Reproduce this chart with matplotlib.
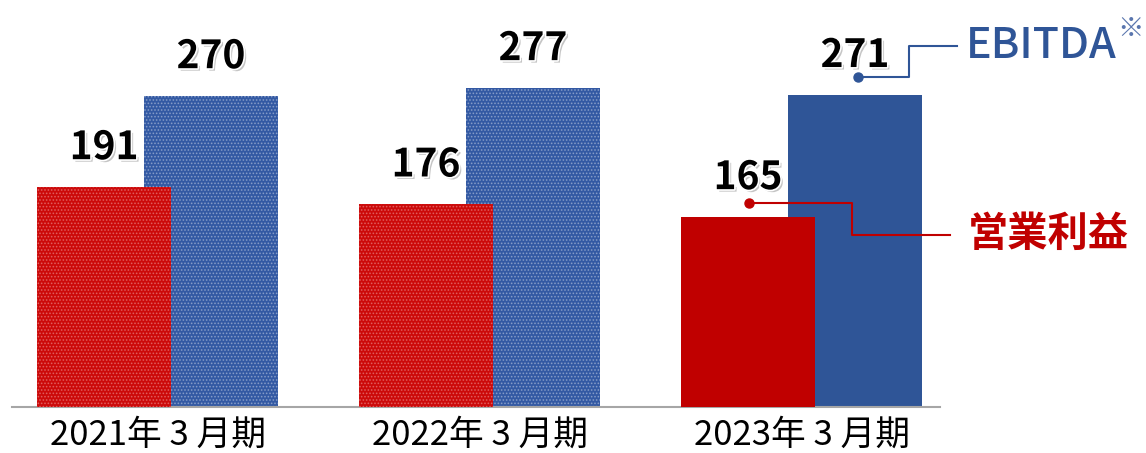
import matplotlib
matplotlib.use("Agg")
import matplotlib.pyplot as plt
import matplotlib.patheffects as pe
from matplotlib.lines import Line2D

plt.rcParams['font.family'] = ['Noto Sans CJK JP', 'DejaVu Sans']
plt.rcParams['hatch.linewidth'] = 0.8

# data (億円)
periods = ["2021年 3 月期", "2022年 3 月期", "2023年 3 月期"]
operating_profit = [191, 176, 165]
ebitda = [270, 277, 271]
series_names = ["営業利益", "EBITDA"]
textured = [True, True, False]

RED = "#C00000"
BLUE = "#2F5597"
RED_DOT = "#CC0A0A"
BLUE_DOT = "#3359A3"

W, H = 1146, 453
fig = plt.figure(figsize=(W / 100, H / 100), dpi=100)
ax = fig.add_axes([12 / W, 46 / H, 928 / W, 407 / H])

width = 0.416
offset = 0.166
xs = list(range(len(periods)))

# EBITDA drawn first so the operating-profit bar sits in front
for i, x in enumerate(xs):
    if textured[i]:
        ax.bar(x + offset, ebitda[i], width, color=BLUE_DOT, edgecolor=(1, 1, 1, 0.35),
               linewidth=0, hatch=".....", zorder=2)
        ax.bar(x - offset, operating_profit[i], width, color=RED_DOT, edgecolor=(1, 0.85, 0.85, 0.35),
               linewidth=0, hatch=".....", zorder=3)
    else:
        ax.bar(x + offset, ebitda[i], width, color=BLUE, linewidth=0, zorder=2)
        ax.bar(x - offset, operating_profit[i], width, color=RED, linewidth=0, zorder=3)

ax.set_xlim(-0.452, 2.430)
ax.set_ylim(0, 353.3)

for s in ["top", "right", "left"]:
    ax.spines[s].set_visible(False)
ax.spines["bottom"].set_color("#A6A6A6")
ax.spines["bottom"].set_linewidth(1.5)
ax.set_yticks([])
ax.set_xticks(xs)
ax.set_xticklabels(periods, fontsize=25)
ax.tick_params(axis="x", length=0, pad=8)
ax.patch.set_visible(False)

# value labels with a soft drop shadow
shadow = [pe.SimplePatchShadow(offset=(1.8, -1.8), shadow_rgbFace="#7F7F7F", alpha=0.45),
          pe.withStroke(linewidth=2.4, foreground="white")]
for i, x in enumerate(xs):
    for val, dx in ((operating_profit[i], -offset), (ebitda[i], offset)):
        ax.annotate(f"{val}", xy=(x + dx, val), xytext=(0, 20), textcoords="offset points",
                    ha="center", va="baseline", fontsize=28, fontweight="bold",
                    color="black", path_effects=shadow, zorder=5)

# leader lines for the series names, anchored to the last period's bars
fig.canvas.draw()


def to_px(x, y):
    px, py = ax.transData.transform((x, y))
    return px, py


def leader(anchor, pts, color):
    xs_f = [(anchor[0] + dx) / W for dx, dy in pts]
    ys_f = [(anchor[1] + dy) / H for dx, dy in pts]
    fig.add_artist(Line2D(xs_f, ys_f, color=color, linewidth=1.5, transform=fig.transFigure))
    fig.add_artist(Line2D([xs_f[0]], [ys_f[0]], marker="o", markersize=6.5, color=color,
                          linewidth=0, transform=fig.transFigure))


last = xs[-1]
bx, by = to_px(last + offset, ebitda[-1])
b_anchor = (bx + 3, by + 18)
leader(b_anchor, [(0, 0), (51, 0), (51, 31), (99, 31)], BLUE)
fig.text((b_anchor[0] + 108) / W, (b_anchor[1] + 31) / H, series_names[1], color=BLUE,
         fontsize=31, ha="left", va="center", fontweight="medium")
fig.text((W - 2) / W, (b_anchor[1] + 47) / H, "※", color="#5A76AE",
         fontsize=19, ha="right", va="center")

rx, ry = to_px(last - offset, operating_profit[-1])
r_anchor = (rx + 1, ry + 14)
leader(r_anchor, [(0, 0), (103, 0), (103, -32), (201, -32)], RED)
fig.text((r_anchor[0] + 219) / W, (r_anchor[1] - 32) / H, series_names[0], color=RED,
         fontsize=29, ha="left", va="center", fontweight="bold")

fig.savefig("out.png", dpi=100)
